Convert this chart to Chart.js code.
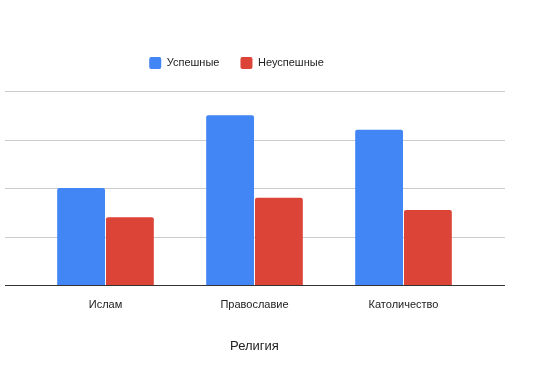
<!DOCTYPE html>
<html lang="ru">
<head>
    <meta charset="UTF-8">
    <title>Религия</title>
    <script src="https://cdn.jsdelivr.net/npm/chart.js"></script>
    <style>
        body { margin: 0; background: #fff; }
        .wrap { width: 537px; height: 371px; }
    </style>
</head>
<body>
    <div class="wrap"><canvas id="myChart" width="537" height="371"></canvas></div>
    <script>
        const categories = ['Ислам', 'Православие', 'Католичество'];
        const successful = [2.0, 3.5, 3.2];
        const failed = [1.4, 1.8, 1.55];
        const yTicks = [0, 1, 2, 3, 4];

        const FONT = 'Liberation Sans, Arial, sans-serif';

        // gridlines in the original run wider than the bar area
        const gridPlugin = {
            id: 'wideGrid',
            beforeInit(chart) {
                // extra space under the legend
                const lg = chart.legend;
                const fit = lg.fit;
                lg.fit = function () { fit.call(this); this.height += 12; };
            },
            beforeDatasetsDraw(chart) {
                const ctx = chart.ctx, y = chart.scales.y;
                ctx.save();
                ctx.lineWidth = 1;
                ctx.strokeStyle = '#cccccc';
                yTicks.slice(1).forEach(v => {
                    const py = Math.round(y.getPixelForValue(v)) + 0.5;
                    ctx.beginPath(); ctx.moveTo(5, py); ctx.lineTo(505, py); ctx.stroke();
                });
                ctx.restore();
            },
            afterDatasetsDraw(chart) {
                const ctx = chart.ctx, y = chart.scales.y;
                const py = Math.round(y.getPixelForValue(0)) + 0.5;
                ctx.save();
                ctx.strokeStyle = '#333333';
                ctx.lineWidth = 1;
                ctx.beginPath(); ctx.moveTo(5, py); ctx.lineTo(505, py); ctx.stroke();
                ctx.restore();
            },
            afterLayout(chart) {
                // legend sits a little left of centre
                const lg = chart.legend;
                lg.left -= 18; lg.right -= 18;
            }
        };

        new Chart(document.getElementById('myChart'), {
            type: 'bar',
            data: {
                labels: categories,
                datasets: [
                    { label: 'Успешные', data: successful, backgroundColor: '#4285f4',
                      borderRadius: { topLeft: 2, topRight: 2 }, borderSkipped: 'bottom' },
                    { label: 'Неуспешные', data: failed, backgroundColor: '#db4437',
                      borderRadius: { topLeft: 2, topRight: 2 }, borderSkipped: 'bottom' }
                ]
            },
            options: {
                responsive: false,
                animation: false,
                datasets: { bar: { categoryPercentage: 0.655, barPercentage: 0.98 } },
                layout: { padding: { left: 31, right: 59, top: 36, bottom: 13 } },
                plugins: {
                    legend: {
                        position: 'top',
                        labels: {
                            boxWidth: 12, boxHeight: 12, padding: 21,
                            useBorderRadius: true, borderRadius: 2,
                            color: '#222',
                            font: { family: FONT, size: 11 }
                        }
                    },
                    tooltip: { enabled: false }
                },
                scales: {
                    x: {
                        grid: { display: false },
                        border: { display: false },
                        ticks: { color: '#222', padding: 5, font: { family: FONT, size: 11 } },
                        title: { display: true, text: 'Религия', color: '#222', padding: { top: 22 },
                                 font: { family: FONT, size: 13 } }
                    },
                    y: {
                        display: false,
                        min: 0, max: 4,
                        ticks: { stepSize: 1 }
                    }
                }
            },
            plugins: [gridPlugin]
        });
    </script>
</body>
</html>
